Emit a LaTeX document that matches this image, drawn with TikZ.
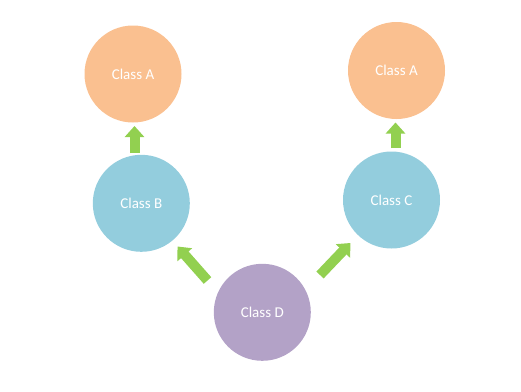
\documentclass[tikz,border=0pt]{standalone}
\usepackage{fontspec}
\setmainfont{Carlito}
\usetikzlibrary{arrows.meta}
\definecolor{corange}{HTML}{FAC090}
\definecolor{cblue}{HTML}{93CDDD}
\definecolor{cpurple}{HTML}{B3A2C7}
\definecolor{cgreen}{HTML}{92D050}
\tikzset{
  cls/.style={circle, minimum size=97pt, inner sep=0pt, fill=#1, draw=none, text=white, font=\fontsize{15}{17}\selectfont},
  blockarrow/.style={draw=cgreen, line width=10pt, -{Triangle[width=19pt,length=11pt]}, color=cgreen}
}
\begin{document}
\begin{tikzpicture}[x=1pt,y=-1pt]
\useasboundingbox (0,0) rectangle (521,391);
\node[cls=corange] (A1) at (133,74) {Class A};
\node[cls=corange] (A2) at (396.5,70.5) {Class A};
\node[cls=cblue] (B) at (141.3,203.3) {Class B};
\node[cls=cblue] (C) at (391.5,200) {Class C};
\node[cls=cpurple] (D) at (262.3,312.3) {Class D};
\coordinate (bt) at (134.5,153);
\coordinate (bh) at (134.5,126);
\coordinate (ct) at (395.5,148);
\coordinate (ch) at (395.5,122.5);
\coordinate (dl) at (207.5,280.5);
\coordinate (dlh) at (177.5,246.5);
\coordinate (dr) at (320,275);
\coordinate (drh) at (350.5,243);
\draw[blockarrow] (bt) -- (bh);
\draw[blockarrow] (ct) -- (ch);
\draw[blockarrow] (dl) -- (dlh);
\draw[blockarrow] (dr) -- (drh);
\end{tikzpicture}
\end{document}
